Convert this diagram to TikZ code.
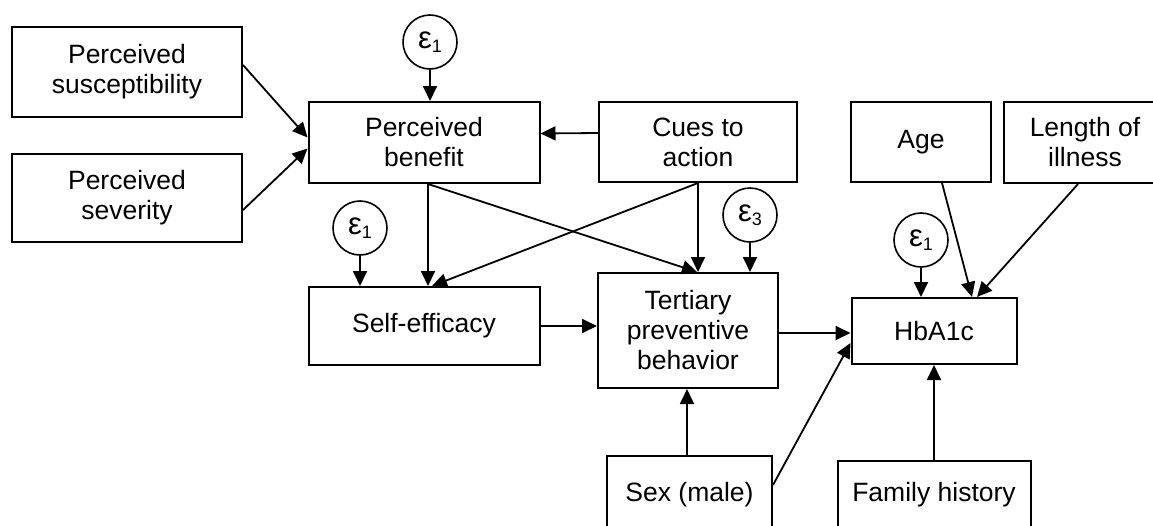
\documentclass[tikz,border=0pt]{standalone}
\usepackage{fontspec}
\setmainfont{Liberation Sans}
\usetikzlibrary{arrows.meta,calc}
\newcommand{\epsx}[1]{ε\raisebox{-4pt}{\fontsize{18}{18}\selectfont #1}}
\begin{document}
\begin{tikzpicture}[x=1pt,y=-1pt,
  box/.style={draw,line width=2pt,inner sep=0pt,align=center,font=\fontsize{26.5}{30}\selectfont},
  err/.style={draw,circle,line width=1.6pt,minimum size=54pt,inner sep=0pt,font=\fontsize{31}{30}\selectfont},
  arr/.style={line width=1.8pt,-{Triangle[length=15pt,width=14pt]}}]
\useasboundingbox (0,0) rectangle (1153,525);
\clip (0,0) rectangle (1153,525);
\node[box,minimum width=230pt,minimum height=90pt] (sus) at (127,72) {Perceived\\susceptibility};
\node[box,minimum width=230pt,minimum height=88pt] (sev) at (127,198) {Perceived\\severity};
\node[box,minimum width=231pt,minimum height=81pt] (ben) at (424,142.5) {Perceived\\benefit};
\node[box,minimum width=198pt,minimum height=80pt] (cues) at (698,142) {Cues to\\action};
\node[box,minimum width=140pt,minimum height=80pt] (age) at (921,142) {Age};
\node[box,minimum width=162pt,minimum height=81pt] (len) at (1085,142.5) {Length of\\illness};
\node[box,minimum width=231pt,minimum height=78pt] (self) at (424,326) {Self-efficacy};
\node[box,minimum width=180pt,minimum height=115pt] (tert) at (688,330.5) {Tertiary\\preventive\\behavior};
\node[box,minimum width=165pt,minimum height=66pt] (hba) at (934,331) {HbA1c};
\node[box,minimum width=165pt,minimum height=78pt] (sex) at (689.5,495) {Sex (male)};
\node[box,minimum width=193pt,minimum height=68pt] (fam) at (934,495) {Family history};
\node[err] (e1a) at (430,42) {\epsx{1}};
\node[err] (e1b) at (360,228) {\epsx{1}};
\node[err] (e3) at (750,215) {\epsx{3}};
\node[err] (e1c) at (921,240) {\epsx{1}};
% connectors
\draw[arr] ($(sus.east)+(0,-7)$) -- ($(ben.west)+(0,-5)$);
\draw[arr] ($(sev.east)+(0,12)$) -- ($(ben.west)+(0,6)$);
\draw[arr] ($(cues.west)+(0,-9)$) -- ($(ben.east)+(0,-9)$);
\draw[arr] (e1a.south) -- (e1a.south |- ben.north);
\draw[arr] ($(ben.south)+(4,0)$) coordinate (bs) -- (bs |- self.north);
\draw[arr] (bs) -- ($(tert.north)+(9,0)$);
\draw[arr] (cues.south) -- (cues.south |- tert.north);
\draw[arr] (cues.south) -- ($(self.north)+(8,0)$);
\draw[arr] (e1b.south) -- (e1b.south |- self.north);
\draw[arr] (e3.south) -- (e3.south |- tert.north);
\draw[arr] (self.east) -- (self.east -| tert.west);
\draw[arr] ($(tert.east)+(0,2.5)$) -- ($(hba.west)+(0,2)$);
\draw[arr] ($(sex.north)+(-2.5,0)$) coordinate (sn) -- (sn |- tert.south);
\draw[arr] ($(sex.east)+(0,-10)$) -- ($(hba.west)+(0,12)$);
\draw[arr] (fam.north) -- (fam.north |- hba.south);
\draw[arr] (e1c.south) -- (e1c.south |- hba.north);
\draw[arr] ($(age.south)+(21,0)$) -- ($(hba.north)+(38,0)$);
\draw[arr] ($(len.south)+(-7,0)$) -- ($(hba.north)+(43,0)$);
\end{tikzpicture}
\end{document}
